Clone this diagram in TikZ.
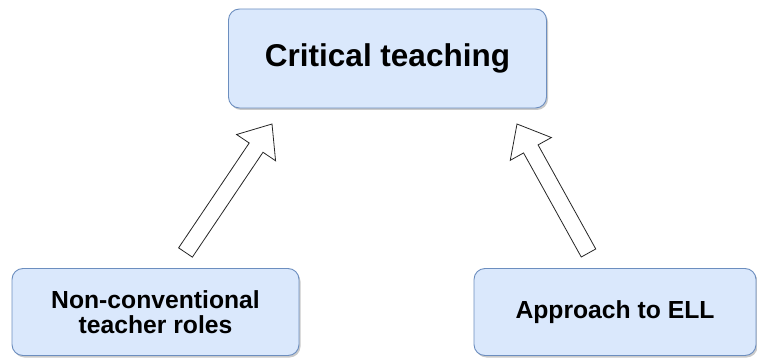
\documentclass[tikz,border=0pt]{standalone}
\usepackage{fontspec}
\setmainfont{Liberation Sans}
\usetikzlibrary{calc,shadows}
\definecolor{boxfill}{HTML}{DAE8FC}
\definecolor{boxline}{HTML}{6C8EBF}
\tikzset{
  block/.style={draw=boxline, line width=0.9pt, fill=boxfill, rounded corners=11pt,
    drop shadow={shadow xshift=1.5pt, shadow yshift=-2pt, opacity=0.35, fill=black!60},
    align=center, font=\bfseries, inner sep=0pt},
  blockarrow/.style={draw=black!85, line width=0.8pt, fill=white, line join=miter}
}
\newcommand{\blockarrowpath}[5]{% tail, tip, shaft half, head half, head length
  \coordinate (bc) at ($(#2)!#5!(#1)$);
  \draw[blockarrow] ($(#1)!#3!90:(#2)$) -- ($(bc)!#3!90:(#2)$) -- ($(bc)!#4!90:(#2)$) -- (#2)
     -- ($(bc)!#4!-90:(#2)$) -- ($(bc)!#3!-90:(#2)$) -- ($(#1)!#3!-90:(#2)$) -- cycle;
}
\begin{document}
\begin{tikzpicture}[x=1pt,y=-1pt]
\useasboundingbox (0,0) rectangle (757,358);
\node[block, minimum width=318pt, minimum height=99pt, font=\bfseries\fontsize{31.5}{36}\selectfont]
  (ct) at (387.5,58.5) {Critical teaching};
\node[block, minimum width=287pt, minimum height=87pt, font=\bfseries\fontsize{24.7}{25}\selectfont]
  (nc) at (155.5,312) {Non-conventional\\teacher roles};
\node[block, minimum width=282pt, minimum height=87pt, font=\bfseries\fontsize{24.7}{25}\selectfont]
  (ae) at (615,312) {Approach to ELL};
\coordinate (t1) at (185.5,252.5);
\coordinate (h1) at (272,124);
\coordinate (t2) at (588.5,253);
\coordinate (h2) at (517,124);
\blockarrowpath{t1}{h1}{8.3pt}{23.5pt}{28.5pt}
\blockarrowpath{t2}{h2}{8.3pt}{23.5pt}{28.5pt}
\end{tikzpicture}
\end{document}
